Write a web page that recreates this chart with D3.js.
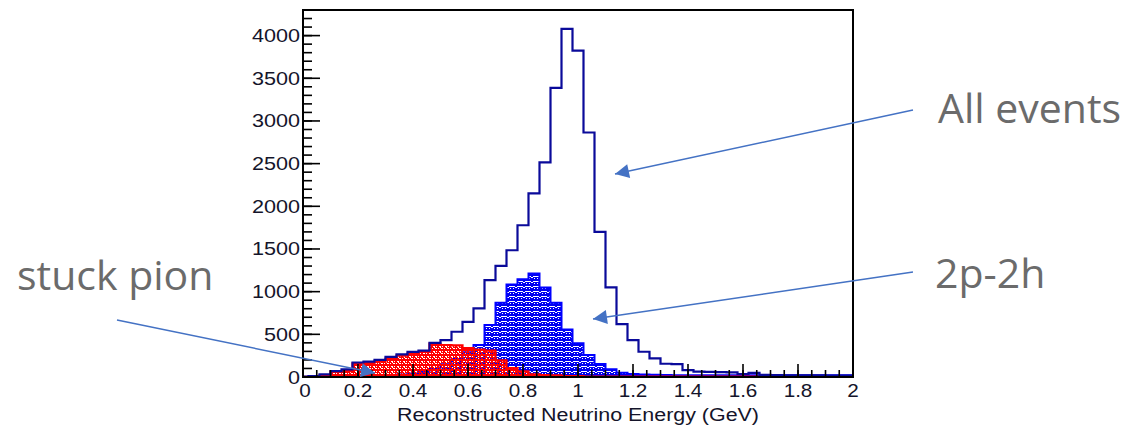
<!DOCTYPE html>
<html>
<head>
<meta charset="utf-8">
<script src="https://cdn.jsdelivr.net/npm/d3@7"></script>
<style>
  body { margin: 0; background: #fff; }
  svg { display: block; }
</style>
</head>
<body>
<div id="chart"></div>
<script>
// bin centres (GeV), bin width 0.04
var binCenters = [0.00, 0.04, 0.08, 0.12, 0.16, 0.20, 0.24, 0.28, 0.32, 0.36,
                  0.40, 0.44, 0.48, 0.52, 0.56, 0.60, 0.64, 0.68, 0.72, 0.76,
                  0.80, 0.84, 0.88, 0.92, 0.96, 1.00, 1.04, 1.08, 1.12, 1.16,
                  1.20, 1.24, 1.28, 1.32, 1.36, 1.40, 1.44, 1.48, 1.52, 1.56,
                  1.60, 1.64, 1.68, 1.72, 1.76, 1.80, 1.84, 1.88, 1.92, 1.96, 2.00];
var binWidth = 0.04;

var allEvents = [5, 10, 30, 70, 90, 170, 180, 200, 235, 265,
                 295, 310, 400, 433, 530, 647, 803, 1135, 1302, 1485,
                 1778, 2152, 2515, 3388, 4078, 3825, 2865, 1700, 1049, 620,
                 433, 296, 219, 155, 150, 80, 62, 60, 58, 55,
                 35, 48, 25, 22, 20, 20, 18, 18, 16, 16, 15];

var twoP2h = [0, 0, 0, 5, 8, 10, 12, 15, 20, 28,
              40, 60, 95, 150, 210, 290, 374, 608, 869, 1085,
              1146, 1213, 1049, 870, 558, 394, 257, 152, 90, 50,
              35, 30, 25, 22, 20, 20, 20, 20, 20, 20,
              20, 20, 20, 20, 20, 20, 20, 20, 20, 20, 20];

var stuckPion = [3, 5, 20, 60, 70, 160, 165, 180, 215, 250,
                 275, 295, 390, 375, 370, 340, 320, 310, 195, 105,
                 65, 30, 22, 18, 12, 10, 5, 5, 5, 5,
                 5, 5, 5, 5, 5, 5, 5, 5, 5, 5,
                 5, 5, 5, 5, 5, 5, 5, 5, 5, 5, 5];

var xTicks = [0, 0.2, 0.4, 0.6, 0.8, 1, 1.2, 1.4, 1.6, 1.8, 2];
var yTicks = [0, 500, 1000, 1500, 2000, 2500, 3000, 3500, 4000];

var labels = [
  {text: "All events", x: 938, y: 123, from: [913, 110], to: [615, 174]},
  {text: "2p-2h", x: 935, y: 288, from: [913, 272], to: [593, 319]},
  {text: "stuck pion", x: 17, y: 290, from: [117, 320], to: [375, 373]}
];

renderChart();

function renderChart() {

var width = 1130, height = 430;
var mLeft = 303, mRight = 853, mTop = 10, mBottom = 377;

var svg = d3.select("#chart").append("svg")
    .attr("width", width)
    .attr("height", height);

svg.append("rect").attr("width", width).attr("height", height).attr("fill", "#fff");

var x = d3.scaleLinear().domain([0, 2]).range([mLeft, mRight]);
var y = d3.scaleLinear().domain([0, 4300]).range([mBottom, mTop]);

var defs = svg.append("defs");
defs.append("clipPath").attr("id", "frame")
  .append("rect").attr("x", mLeft).attr("y", mTop - 2)
  .attr("width", mRight - mLeft).attr("height", mBottom - mTop + 4);

// ROOT-like fill patterns, gaps are transparent
var pb = defs.append("pattern").attr("id", "hatchBlue")
    .attr("patternUnits", "userSpaceOnUse").attr("width", 8).attr("height", 5);
pb.append("path")
  .attr("d", "M0,0h8v5h-8z M0,1h3v1h-3z M3,2h2v1h-2z M5,1h3v1h-3z M1,3h1v1h-1z M6,3h1v1h-1z")
  .attr("fill", "#0000f0").attr("fill-rule", "evenodd");

var pr = defs.append("pattern").attr("id", "hatchRed")
    .attr("patternUnits", "userSpaceOnUse").attr("width", 6).attr("height", 5);
pr.append("path")
  .attr("d", "M0,0h6v5h-6z M1,1h2v1h-2z M4,1h1v1h-1z M3,3h2v1h-2z M0,3h1v1h-1z M2,2h1v1h-1z")
  .attr("fill", "#ff0000").attr("fill-rule", "evenodd");

function stepPoints(values) {
  var pts = values.map(function(v, i) { return [binCenters[i] - binWidth / 2, v]; });
  pts.push([binCenters[binCenters.length - 1] + binWidth / 2, values[values.length - 1]]);
  return pts;
}

function firstNonZero(values) {
  for (var i = 0; i < values.length; i++) if (values[i] > 0) return i;
  return 0;
}

var area = d3.area()
    .x(function(d) { return x(d[0]); })
    .y0(y(0))
    .y1(function(d) { return y(d[1]); })
    .curve(d3.curveStepAfter);

var line = d3.line()
    .x(function(d) { return x(d[0]); })
    .y(function(d) { return y(d[1]); })
    .curve(d3.curveStepAfter);

var plot = svg.append("g").attr("clip-path", "url(#frame)");

// 2p-2h
var b0 = firstNonZero(twoP2h);
plot.append("path")
  .datum(stepPoints(twoP2h).slice(b0))
  .attr("d", area)
  .attr("fill", "url(#hatchBlue)")
  .attr("stroke", "#0000ff")
  .attr("stroke-width", 2);

// stuck pion
plot.append("path")
  .datum(stepPoints(stuckPion))
  .attr("d", area)
  .attr("fill", "url(#hatchRed)")
  .attr("stroke", "#ff0000")
  .attr("stroke-width", 2.2);

// all events outline
var allPts = stepPoints(allEvents);
allPts.unshift([allPts[0][0], 0]);
allPts.push([allPts[allPts.length - 1][0], 0]);
plot.append("path")
  .datum(allPts)
  .attr("d", line)
  .attr("fill", "none")
  .attr("stroke", "#0a0a9a")
  .attr("stroke-width", 2.2);

// frame
svg.append("rect")
  .attr("x", mLeft).attr("y", mTop)
  .attr("width", mRight - mLeft).attr("height", mBottom - mTop)
  .attr("fill", "none").attr("stroke", "#000").attr("stroke-width", 2);

// ticks (inward)
var xMinor = d3.range(0, 2.0001, 0.05);
var yMinor = d3.range(0, 4300.1, 100);
var ticks = svg.append("g").attr("stroke", "#000").attr("stroke-width", 1.6);
ticks.selectAll(".xm").data(xMinor).enter().append("line")
  .attr("x1", function(d) { return x(d); }).attr("x2", function(d) { return x(d); })
  .attr("y1", mBottom).attr("y2", mBottom - 7);
ticks.selectAll(".xM").data(xTicks).enter().append("line")
  .attr("x1", function(d) { return x(d); }).attr("x2", function(d) { return x(d); })
  .attr("y1", mBottom).attr("y2", mBottom - 13);
ticks.selectAll(".ym").data(yMinor).enter().append("line")
  .attr("x1", mLeft).attr("x2", mLeft + 9)
  .attr("y1", function(d) { return y(d); }).attr("y2", function(d) { return y(d); });
ticks.selectAll(".yM").data(yTicks).enter().append("line")
  .attr("x1", mLeft).attr("x2", mLeft + 17)
  .attr("y1", function(d) { return y(d); }).attr("y2", function(d) { return y(d); });

var tickFont = "'Liberation Sans', Arial, sans-serif";

svg.append("g").selectAll("text").data(yTicks).enter().append("text")
  .attr("transform", function(d) { return "translate(300," + (y(d) + 6.5) + ") scale(1.2,1)"; })
  .attr("text-anchor", "end")
  .attr("font-family", tickFont).attr("font-size", 18)
  .attr("fill", "#14142a")
  .text(function(d) { return d; });

svg.append("g").selectAll("text").data(xTicks).enter().append("text")
  .attr("transform", function(d) { return "translate(" + (x(d) + (d === 0 ? 2 : 0)) + ",397) scale(1.15,1)"; })
  .attr("text-anchor", "middle")
  .attr("font-family", tickFont).attr("font-size", 18)
  .attr("fill", "#14142a")
  .text(function(d) { return d; });

svg.append("text")
  .attr("x", (mLeft + mRight) / 2).attr("y", 421)
  .attr("text-anchor", "middle")
  .attr("font-family", tickFont).attr("font-size", 18)
  .attr("textLength", 362).attr("lengthAdjust", "spacingAndGlyphs")
  .attr("fill", "#14142a")
  .text("Reconstructed Neutrino Energy (GeV)");

// annotations
defs.append("marker").attr("id", "head")
  .attr("viewBox", "0 0 10 10").attr("refX", 10).attr("refY", 5)
  .attr("markerUnits", "userSpaceOnUse")
  .attr("markerWidth", 17).attr("markerHeight", 14)
  .attr("orient", "auto")
  .append("path").attr("d", "M0,0L10,5L0,10z").attr("fill", "#4472c4");

var ann = svg.append("g");
ann.selectAll("line").data(labels).enter().append("line")
  .attr("x1", function(d) { return d.from[0]; }).attr("y1", function(d) { return d.from[1]; })
  .attr("x2", function(d) { return d.to[0]; }).attr("y2", function(d) { return d.to[1]; })
  .attr("stroke", "#4472c4").attr("stroke-width", 1.5)
  .attr("marker-end", "url(#head)");

ann.selectAll("text").data(labels).enter().append("text")
  .attr("x", function(d) { return d.x; }).attr("y", function(d) { return d.y; })
  .attr("font-family", "'Open Sans', 'Noto Sans', sans-serif")
  .attr("font-size", 41)
  .attr("fill", "#6b6b6b")
  .text(function(d) { return d.text; });

}
</script>
</body>
</html>
